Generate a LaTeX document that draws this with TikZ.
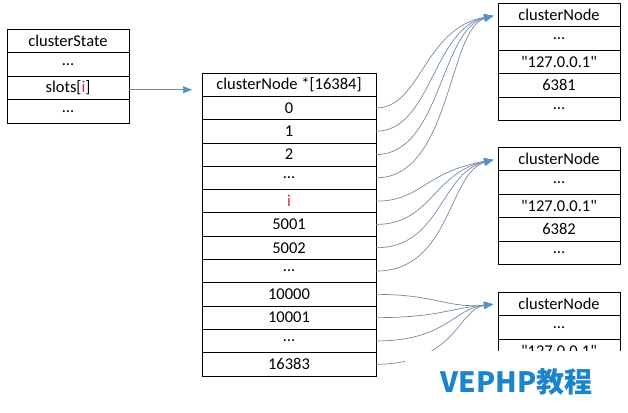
\documentclass[tikz,border=0pt]{standalone}
\usepackage{fontspec}
\setmainfont{Carlito}
\newfontfamily\cjk{Noto Sans CJK SC}
\usetikzlibrary{arrows.meta, positioning}

\definecolor{linkgray}{RGB}{112,138,165}
\definecolor{tipblue}{RGB}{85,145,205}
\definecolor{slotred}{RGB}{195,45,60}
\definecolor{markblue}{RGB}{28,132,205}

\tikzset{
	cell/.style={draw, line width=0.8pt, outer sep=0pt, inner sep=0pt,
		minimum width=122pt, minimum height=23.5pt,
		font=\fontsize{16.5}{18}\selectfont},
	slot/.style={cell, minimum width=174pt, minimum height=23.3pt},
	link/.style={linkgray, line width=0.7pt, shorten >=5pt,
		-{Triangle[length=9pt, width=7pt, color=tipblue]}},
}
\newcommand{\hostip}{\textquotedbl127.0.0.1\textquotedbl}

\begin{document}
\begin{tikzpicture}[x=1pt, y=-1pt]
\useasboundingbox (0,0) rectangle (628,412);

% clusterState
\node[cell, anchor=north] (st0) at (68,29) {clusterState};
\node[cell, below=0pt of st0] (st1) {…};
\node[cell, below=0pt of st1] (st2) {slots[{\color{slotred}i}]};
\node[cell, below=0pt of st2] (st3) {…};

% the slot array
\node[slot, anchor=north] (a0) at (289,73) {clusterNode *[16384]};
\foreach \t [count=\k, remember=\k as \j (initially 0)] in
	{0,1,2,…,{\color{slotred}i},5001,5002,…,10000,10001,…,16383}
	\node[slot, below=0pt of a\j] (a\k) {\t};

% the nodes on the right
\foreach \b/\ytop/\port in {1/3/6381, 2/147/6382} {
	\node[cell, anchor=north] (n\b-0) at (559,\ytop) {clusterNode};
	\node[cell, below=0pt of n\b-0] (n\b-1) {…};
	\node[cell, below=0pt of n\b-1] (n\b-2) {\hostip};
	\node[cell, below=0pt of n\b-2] (n\b-3) {\port};
	\node[cell, below=0pt of n\b-3] (n\b-4) {…};
}
\node[cell, anchor=north] (n3-0) at (559,292) {clusterNode};
\node[cell, below=0pt of n3-0] (n3-1) {…};
\node[cell, below=0pt of n3-1] (n3-2) {\hostip};

% pointers
\draw[link, shorten >=10pt] ([yshift=-2pt]st2.east) -- ([yshift=-2pt]st2.east -| a0.west);
\foreach \k/\u/\v in {1/45/75, 2/55/65, 3/65/58, 4/75/50}
	\draw[link] (a\k.east) .. controls +(\u,0) and +(-\v,14) .. (n1-0.west);
\foreach \k/\u/\v in {5/45/75, 6/55/65, 7/65/58, 8/75/50}
	\draw[link] (a\k.east) .. controls +(\u,0) and +(-\v,14) .. (n2-0.west);
\foreach \k/\u/\v in {9/60/50, 10/60/50, 11/70/45, 12/80/40}
	\draw[link] (a\k.east) .. controls +(\u,0) and +(-\v,5) .. (n3-0.west);

% watermark
\node[fill=white, text=markblue, anchor=north west, inner sep=0pt,
	minimum width=223pt, minimum height=61pt,
	font=\cjk\bfseries\fontsize{28}{30}\selectfont] (mark) at (405,351) {VEPHP教程};
\end{tikzpicture}
\end{document}
